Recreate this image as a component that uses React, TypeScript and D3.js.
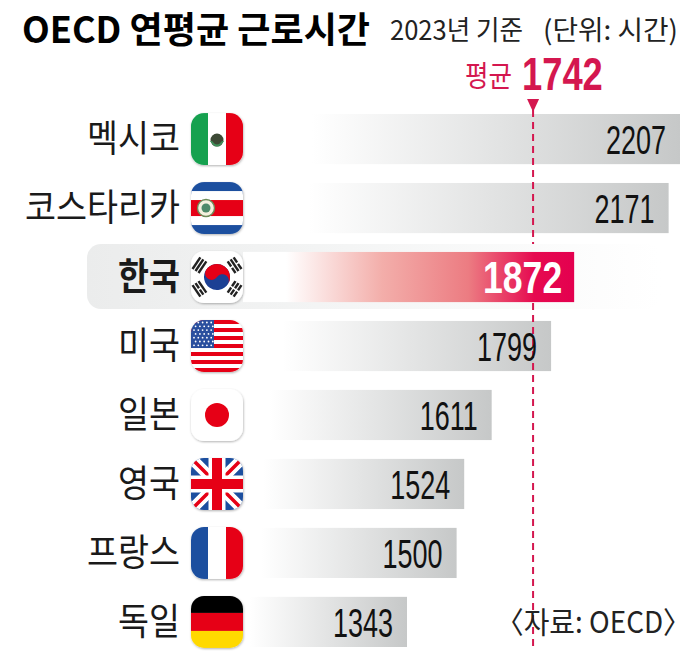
import * as d3 from "d3";

const countries = ["멕시코", "코스타리카", "한국", "미국", "일본", "영국", "프랑스", "독일"];
const hours = [2207, 2171, 1872, 1799, 1611, 1524, 1500, 1343];
const flags = ["mx", "cr", "kr", "us", "jp", "uk", "fr", "de"];
const average = 1742;
const highlight = "한국";

const width = 693;
const height = 662;
const kr = "'Noto Sans CJK KR', sans-serif";
const latin = "'Liberation Sans', sans-serif";
const red = "#e60012";
const pink = "#d4174f";

// px per hour read from the 1799 / 1872 bar ends
const x = d3.scaleLinear().domain([1343, 2207]).range([407, 680]);
// the grey fade starts further right on longer bars
const fadeStart = d3.scaleLinear().domain([1343, 2207]).range([250, 312]);
const y = d3.scaleBand().domain(countries).range([114, 647]).paddingInner(0.273).paddingOuter(0);

const S = 52;

function Flag({ code }: { code: string }) {
  if (code === "mx")
    return (
      <g>
        <rect width={S} height={S} fill="#fff" />
        <rect width={17} height={S} fill="#12a150" />
        <rect x={35} width={17} height={S} fill={red} />
        <circle cx={26} cy={27} r={6.5} fill="#3d4a35" />
        <path d="M19 28 Q26 39 33 28 L31 28 Q26 35 21 28Z" fill="#3f8f5a" />
      </g>
    );
  if (code === "cr")
    return (
      <g>
        <rect width={S} height={S} fill="#1d4f9f" />
        <rect y={9} width={S} height={34} fill="#fff" />
        <rect y={18} width={S} height={16} fill={red} />
        <circle cx={15} cy={26} r={8.5} fill="#f4f1df" stroke="#6d8c5a" strokeWidth={1.4} />
        <circle cx={15} cy={26} r={4.5} fill="#4d8a6a" />
      </g>
    );
  if (code === "kr") {
    const r = 13;
    const tri: [number, boolean[]][] = [
      [-56, [false, false, false]],
      [56, [true, false, true]],
      [124, [true, true, true]],
      [-124, [false, true, false]],
    ];
    return (
      <g>
        <rect width={S} height={S} fill="#fff" />
        {tri.map(([a, broken], i) => (
          <g key={i} transform={`translate(26,26) rotate(${a}) translate(0,-21)`} fill="#222">
            {broken.map((b, j) =>
              b ? (
                <g key={j}>
                  <rect x={-7} y={-5 + j * 3.6} width={6.2} height={2.4} />
                  <rect x={0.8} y={-5 + j * 3.6} width={6.2} height={2.4} />
                </g>
              ) : (
                <rect key={j} x={-7} y={-5 + j * 3.6} width={14} height={2.4} />
              ),
            )}
          </g>
        ))}
        <g transform="translate(26,26) rotate(33.7)">
          <circle r={r} fill="#1c3f94" />
          <path
            d={`M${-r} 0A${r} ${r} 0 0 1 ${r} 0A${r / 2} ${r / 2} 0 0 0 0 0A${r / 2} ${r / 2} 0 0 1 ${-r} 0Z`}
            fill={red}
          />
        </g>
      </g>
    );
  }
  if (code === "us")
    return (
      <g>
        <rect width={S} height={S} fill="#fff" />
        {d3.range(0, 13, 2).map((i) => (
          <rect key={i} y={(i * S) / 13} width={S} height={S / 13} fill={red} />
        ))}
        <rect width={23} height={28} fill="#2c4f9e" />
        {d3.range(0, 7).flatMap((r) =>
          d3.range(0, 5).map((c) => (
            <circle key={`${r}-${c}`} cx={3 + c * 4.3 + (r % 2) * 1.6} cy={2.5 + r * 3.8} r={0.9} fill="#fff" />
          )),
        )}
      </g>
    );
  if (code === "jp")
    return (
      <g>
        <rect width={S} height={S} fill="#fff" />
        <circle cx={26} cy={26} r={12} fill={red} />
      </g>
    );
  if (code === "uk")
    return (
      <g>
        <rect width={S} height={S} fill="#1d4f9f" />
        <path d="M0 0L52 52M52 0L0 52" stroke="#fff" strokeWidth={11} />
        <path d="M0 0L52 52M52 0L0 52" stroke={red} strokeWidth={3.5} />
        <path d="M26 0V52M0 26H52" stroke="#fff" strokeWidth={17} />
        <path d="M26 0V52M0 26H52" stroke={red} strokeWidth={10} />
      </g>
    );
  if (code === "fr")
    return (
      <g>
        <rect width={S} height={S} fill="#fff" />
        <rect width={17} height={S} fill="#1d4f9f" />
        <rect x={35} width={17} height={S} fill={red} />
      </g>
    );
  return (
    <g>
      <rect width={S} height={17} fill="#000" />
      <rect y={17} width={S} height={18} fill={red} />
      <rect y={35} width={S} height={17} fill="#ffd900" />
    </g>
  );
}

export default function App() {
  const bandH = y.bandwidth();
  return (
    <svg
      width={width}
      height={height}
      viewBox={`0 0 ${width} ${height}`}
      style={{ position: "absolute", left: 0, top: 0, background: "#fff" }}
    >
      <defs>
        <linearGradient id="greyBar">
          <stop offset="0" stopColor="#fff" />
          <stop offset="1" stopColor="#c6c8c8" />
        </linearGradient>
        <linearGradient id="redBar">
          <stop offset="0" stopColor="#fff" />
          <stop offset="0.13" stopColor="#fff" />
          <stop offset="0.42" stopColor="#f3aeaa" />
          <stop offset="0.68" stopColor="#ec7c82" />
          <stop offset="0.88" stopColor="#e60a50" />
          <stop offset="1" stopColor="#e4004f" />
        </linearGradient>
        <linearGradient id="hiBack">
          <stop offset="0" stopColor="#ebecec" />
          <stop offset="0.35" stopColor="#f2f3f3" />
          <stop offset="1" stopColor="#fff" />
        </linearGradient>
        <filter id="shadow" x="-10%" y="-10%" width="120%" height="125%">
          <feDropShadow dx="0.5" dy="1" stdDeviation="1" floodColor="#000" floodOpacity="0.3" />
        </filter>
        <clipPath id="flagClip">
          <rect width={S} height={S} rx={13} />
        </clipPath>
      </defs>

      <text x={22} y={43} fontFamily={kr} fontWeight={700} fontSize={36} textLength={348} lengthAdjust="spacingAndGlyphs">
        OECD 연평균 근로시간
      </text>
      <text x={390} y={40} fontFamily={kr} fontSize={27} fill="#222" textLength={133} lengthAdjust="spacingAndGlyphs">
        2023년 기준
      </text>
      <text x={543} y={40} fontFamily={kr} fontSize={27} fill="#222" textLength={135} lengthAdjust="spacingAndGlyphs">
        (단위: 시간)
      </text>

      <rect x={87} y={244} width={574} height={65} rx={14} fill="url(#hiBack)" />

      {countries.map((c, i) => {
        const top = y(c)!;
        const isHi = c === highlight;
        const start = isHi ? 243 : fadeStart(hours[i]);
        return (
          <rect
            key={c}
            x={start}
            y={top}
            width={x(hours[i]) - start}
            height={bandH}
            fill={isHi ? "url(#redBar)" : "url(#greyBar)"}
          />
        );
      })}

      <line x1={x(average)} x2={x(average)} y1={110} y2={244} stroke={pink} strokeWidth={2} strokeDasharray="7 5" />
      <line x1={x(average)} x2={x(average)} y1={303} y2={650} stroke={pink} strokeWidth={2} strokeDasharray="7 5" />
      <path
        d={d3.line()([
          [x(average) - 6, 99],
          [x(average) + 6, 99],
          [x(average), 112],
        ])! + "Z"}
        fill={pink}
      />
      <text x={465} y={87} fontFamily={kr} fontSize={29} fill={pink} textLength={47} lengthAdjust="spacingAndGlyphs">
        평균
      </text>
      <text
        transform="translate(522,90) scale(0.79,1)"
        fontFamily={latin}
        fontWeight={700}
        fontSize={46}
        fill={pink}
      >
        {average}
      </text>

      {countries.map((c, i) => {
        const top = y(c)!;
        const mid = top + bandH / 2;
        const isHi = c === highlight;
        const labelX = x(hours[i]) - (isHi ? 12 : 14);
        const labelY = mid + (isHi ? 16 : 15);
        return (
          <g key={c}>
            <text
              x={180}
              y={mid + 13}
              textAnchor="end"
              fontFamily={kr}
              fontWeight={isHi ? 700 : 400}
              fontSize={37}
              fill="#1a1a1a"
              textLength={31 * c.length}
              lengthAdjust="spacingAndGlyphs"
            >
              {c}
            </text>
            <g transform={`translate(191,${mid - S / 2})`} filter="url(#shadow)">
              <g clipPath="url(#flagClip)">
                <Flag code={flags[i]} />
              </g>
            </g>
            <text
              transform={`translate(${labelX},${labelY}) scale(${isHi ? 0.79 : 0.675},1)`}
              textAnchor="end"
              fontFamily={latin}
              fontWeight={isHi ? 700 : 400}
              fontSize={isHi ? 45 : 40}
              fill={isHi ? "#fff" : "#111"}
            >
              {hours[i]}
            </text>
          </g>
        );
      })}

      <text
        transform="translate(691,633) scale(0.93,1)"
        textAnchor="end"
        fontFamily={kr}
        fontSize={30}
        fill="#222"
      >
        〈자료: OECD〉
      </text>
    </svg>
  );
}
